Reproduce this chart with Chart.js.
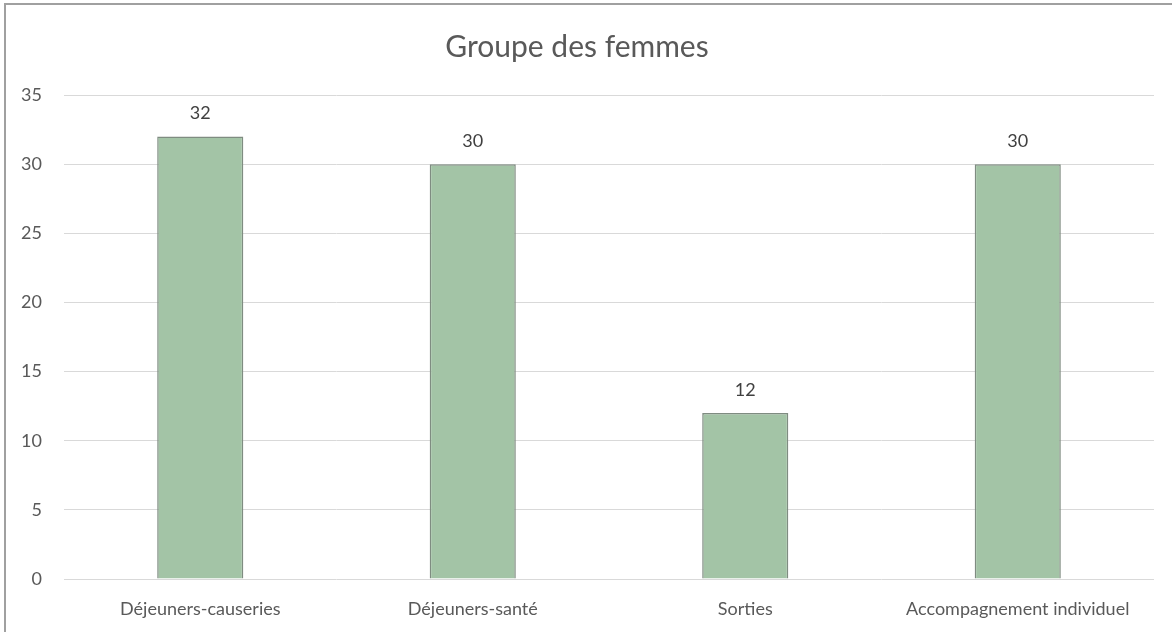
<!DOCTYPE html>
<html>
<head>
<meta charset="utf-8">
<script src="https://cdn.jsdelivr.net/npm/chart.js@4"></script>
<style>
  body { margin: 0; background: #fff; }
  #wrap { position: relative; width: 1172px; height: 632px; overflow: hidden; }
  #frame { position: absolute; left: 4px; top: 3px; width: 1180px; height: 640px; border: 2px solid #a0a0a0; box-sizing: border-box; }
  canvas { position: absolute; left: 0; top: 0; }
</style>
</head>
<body>
<div id="wrap">
  <canvas id="myChart" width="1172" height="632"></canvas>
  <div id="frame"></div>
</div>
<script>
const categories = ['Déjeuners-causeries', 'Déjeuners-santé', 'Sorties', 'Accompagnement individuel'];
const values = [32, 30, 12, 30];
const yTicks = [0, 5, 10, 15, 20, 25, 30, 35];

const FONT = 'Lato, "Open Sans", sans-serif';

// value labels above each bar
const barLabels = {
    id: 'barLabels',
    afterDatasetsDraw(chart) {
        const ctx = chart.ctx;
        const meta = chart.getDatasetMeta(0);
        ctx.save();
        ctx.font = '18px ' + FONT;
        ctx.fillStyle = '#404040';
        ctx.textAlign = 'center';
        ctx.textBaseline = 'middle';
        meta.data.forEach((bar, i) => {
            ctx.fillText(String(values[i]), bar.x, bar.y - 23);
        });
        ctx.restore();
    }
};

new Chart(document.getElementById('myChart').getContext('2d'), {
    type: 'bar',
    data: {
        labels: categories,
        datasets: [{
            data: values,
            backgroundColor: '#a3c4a6',
            borderColor: '#7f8c81',
            borderWidth: 1.5,
            categoryPercentage: 1,
            barPercentage: 0.316
        }]
    },
    options: {
        responsive: false,
        animation: false,
        layout: { padding: { top: 16, right: 18, bottom: 14, left: 0 } },
        plugins: {
            legend: { display: false },
            tooltip: { enabled: false },
            title: {
                display: true,
                text: 'Groupe des femmes',
                color: '#595959',
                font: { family: FONT, size: 30, weight: 'normal' },
                padding: { top: 13, bottom: 30 }
            }
        },
        scales: {
            y: {
                min: 0,
                max: 35,
                afterBuildTicks: s => { s.ticks = yTicks.map(v => ({ value: v })); },
                afterFit: s => { s.width = 64; },
                border: { display: false },
                grid: { color: '#d9d9d9', lineWidth: 1, drawTicks: false },
                ticks: { color: '#595959', padding: 22, font: { family: FONT, size: 18 } }
            },
            x: {
                afterFit: s => { s.height = 39; },
                border: { display: false },
                grid: { display: false, drawTicks: false },
                ticks: { color: '#595959', padding: 19, maxRotation: 0, font: { family: FONT, size: 18 } }
            }
        }
    },
    plugins: [barLabels]
});
</script>
</body>
</html>
